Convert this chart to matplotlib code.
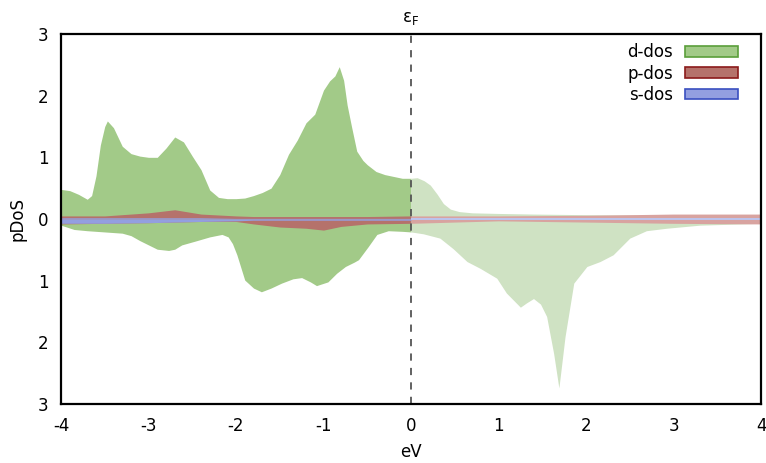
import numpy as np
import matplotlib.pyplot as plt
from matplotlib.patches import Patch
from matplotlib.ticker import FuncFormatter

# d-dos, spin up (positive) and spin down (plotted negative)
d_up_x = [-4.0, -3.9, -3.8, -3.7, -3.65, -3.6, -3.55, -3.5, -3.47, -3.4, -3.3, -3.2, -3.1,
          -3.0, -2.9, -2.8, -2.7, -2.6, -2.5, -2.4, -2.3, -2.2, -2.1, -2.0, -1.9, -1.8,
          -1.7, -1.6, -1.5, -1.4, -1.3, -1.2, -1.1, -1.0, -0.93, -0.87, -0.82, -0.77,
          -0.73, -0.68, -0.62, -0.55, -0.5, -0.4, -0.3, -0.2, -0.1, 0.0, 0.07, 0.15,
          0.22, 0.3, 0.37, 0.45, 0.55, 0.7, 1.0, 1.4, 2.0, 3.0, 4.0]
d_up = [0.48, 0.46, 0.40, 0.32, 0.38, 0.70, 1.20, 1.50, 1.59, 1.48, 1.18, 1.06, 1.02,
        1.00, 1.00, 1.15, 1.33, 1.25, 1.02, 0.80, 0.47, 0.35, 0.33, 0.33, 0.34, 0.38,
        0.43, 0.50, 0.72, 1.05, 1.28, 1.56, 1.70, 2.09, 2.24, 2.32, 2.47, 2.25,
        1.85, 1.50, 1.10, 0.95, 0.88, 0.77, 0.72, 0.69, 0.66, 0.66, 0.67, 0.62,
        0.55, 0.40, 0.25, 0.16, 0.12, 0.10, 0.09, 0.08, 0.07, 0.06, 0.05]

d_dn_x = [-4.0, -3.85, -3.7, -3.5, -3.3, -3.2, -3.1, -3.0, -2.9, -2.77, -2.7, -2.62, -2.47,
          -2.3, -2.16, -2.09, -2.04, -1.99, -1.9, -1.8, -1.71, -1.6, -1.48, -1.35, -1.25,
          -1.15, -1.08, -0.95, -0.85, -0.75, -0.65, -0.6, -0.49, -0.39, -0.26, -0.1, 0.0,
          0.14, 0.33, 0.48, 0.64, 0.79, 0.98, 1.09, 1.25, 1.32, 1.4, 1.48, 1.55, 1.63,
          1.69, 1.76, 1.86, 2.01, 2.16, 2.31, 2.5, 2.69, 2.92, 3.3, 4.0]
d_dn = [-0.10, -0.17, -0.19, -0.21, -0.23, -0.27, -0.35, -0.42, -0.49, -0.51, -0.49, -0.42,
        -0.36, -0.29, -0.25, -0.29, -0.40, -0.58, -0.99, -1.12, -1.18, -1.12, -1.04, -0.97,
        -0.95, -1.02, -1.08, -1.02, -0.88, -0.77, -0.70, -0.66, -0.45, -0.25, -0.19, -0.20,
        -0.21, -0.24, -0.31, -0.48, -0.69, -0.80, -0.96, -1.20, -1.43, -1.36, -1.29, -1.38,
        -1.58, -2.18, -2.74, -1.91, -1.04, -0.77, -0.69, -0.58, -0.31, -0.19, -0.15, -0.10,
        -0.07]

# p-dos and s-dos
ps_x = [-4.0, -3.5, -3.0, -2.7, -2.4, -2.0, -1.8, -1.5, -1.2, -1.0, -0.8, -0.5, 0.0,
        1.0, 2.0, 3.0, 4.0]
p_up = [0.05, 0.05, 0.10, 0.15, 0.08, 0.05, 0.04, 0.04, 0.04, 0.04, 0.04, 0.04, 0.05,
        0.05, 0.06, 0.08, 0.08]
p_dn = [-0.08, -0.07, -0.06, -0.05, -0.04, -0.04, -0.08, -0.13, -0.15, -0.18, -0.12, -0.08,
        -0.07, -0.03, -0.05, -0.07, -0.08]
s_up = [0.02, 0.02, 0.02, 0.02, 0.02, 0.01, 0.01, 0.01, 0.01, 0.01, 0.01, 0.01, 0.01,
        0.01, 0.01, 0.01, 0.01]
s_dn = [-0.07, -0.07, -0.06, -0.05, -0.04, -0.03, -0.02, -0.02, -0.02, -0.02, -0.02, -0.02,
        -0.02, -0.02, -0.02, -0.02, -0.02]

series = [
    ("d-dos", d_up_x, d_up, d_dn_x, d_dn, "#a2ca88", "#cfe2c3", "#5a9e3a"),
    ("p-dos", ps_x, p_up, ps_x, p_dn, "#b5726b", "#d8a3a0", "#8b1a1a"),
    ("s-dos", ps_x, s_up, ps_x, s_dn, "#939fe0", "#bcc3ec", "#3a4fc0"),
]

plt.rcParams['font.family'] = 'DejaVu Sans'
plt.rcParams['axes.unicode_minus'] = False
fig = plt.figure(figsize=(7.66, 4.63), dpi=100)
ax = fig.add_axes([0.0796, 0.1274, 0.9139, 0.7992])

handles = []
for name, xu, yu, xd, yd, c_occ, c_emp, c_edge in series:
    for xs, ys in ((xu, yu), (xd, yd)):
        xs = np.array(xs)
        ys = np.array(ys)
        ax.fill_between(xs, 0, ys, where=xs <= 0, color=c_occ, lw=0)
        ax.fill_between(xs, 0, ys, where=xs >= 0, color=c_emp, lw=0)
    handles.append(Patch(facecolor=c_occ, edgecolor=c_edge, lw=1.2, label=name))

ax.axvline(0, color="#555555", lw=1.3, ls=(0, (4, 4)))
ax.text(0, 3.12, "ε$_\\mathregular{F}$", ha="center", va="bottom", fontsize=12)

ax.set_xlim(-4, 4)
ax.set_ylim(-3, 3)
ax.set_xticks(range(-4, 5))
ax.set_yticks(range(-3, 4))
ax.yaxis.set_major_formatter(FuncFormatter(lambda v, p: f"{abs(int(round(v)))}"))
ax.tick_params(axis="x", length=0, labelsize=12, pad=9)
ax.tick_params(axis="y", length=0, labelsize=12, pad=9)
for s in ax.spines.values():
    s.set_linewidth(1.6)
ax.set_xlabel("eV", fontsize=12, labelpad=6)
ax.set_ylabel("pDoS", fontsize=12, labelpad=8)

ax.legend(handles=handles, loc="upper right", frameon=False, markerfirst=False,
          fontsize=12, handlelength=3.2, handleheight=0.6, labelspacing=0.2,
          handletextpad=0.7, borderpad=0, borderaxespad=0,
          bbox_to_anchor=(0.967, 0.975))

fig.savefig("out.png", dpi=100)
